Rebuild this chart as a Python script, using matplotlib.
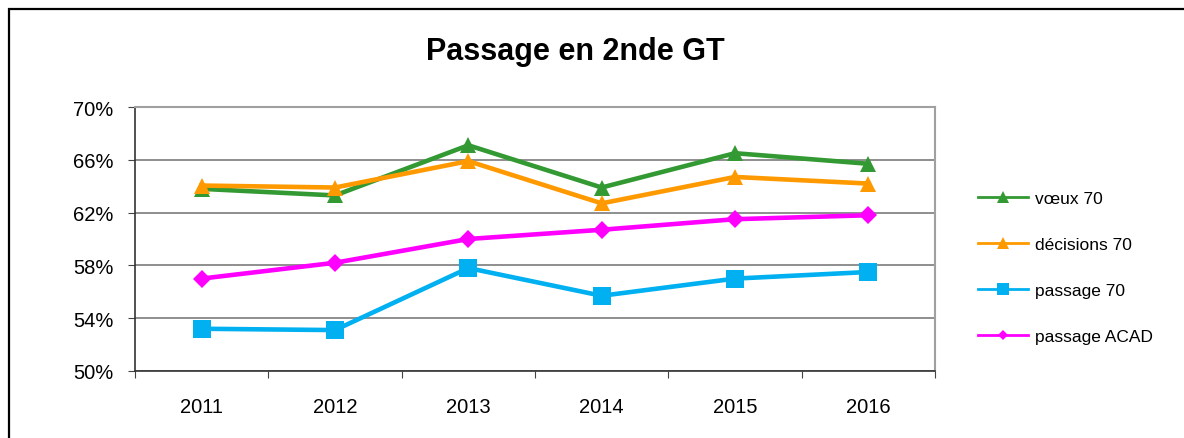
import matplotlib
matplotlib.use("Agg")
import matplotlib.pyplot as plt
from matplotlib.lines import Line2D
from matplotlib.patches import Rectangle
from matplotlib.ticker import FuncFormatter

plt.rcParams['font.family'] = ['Liberation Sans', 'DejaVu Sans']

years = ["2011", "2012", "2013", "2014", "2015", "2016"]
voeux_70 = [63.8, 63.3, 67.1, 63.9, 66.5, 65.7]
decisions_70 = [64.05, 63.9, 65.9, 62.7, 64.7, 64.2]
passage_70 = [53.2, 53.1, 57.8, 55.7, 57.0, 57.5]
passage_acad = [57.0, 58.2, 60.0, 60.7, 61.5, 61.8]
labels = ["vœux 70", "décisions 70", "passage 70", "passage ACAD"]

W, H = 1184, 439
fig = plt.figure(figsize=(W / 100, H / 100), dpi=100)
fig.patch.set_facecolor("white")

# figure frame (cut at right and bottom)
fig.patches.append(Rectangle((9 / W, -0.05), 1.2, 1 - 10 / H + 0.05,
                             transform=fig.transFigure, fill=False,
                             edgecolor="black", linewidth=1.6))

ax = fig.add_axes([135 / W, (H - 372) / H, 800 / W, 264 / H])
x = list(range(len(years)))

styles = [
    dict(color="#339933", marker="^", ms=11.5, lw=3.3),
    dict(color="#FF9900", marker="^", ms=11.5, lw=3.3),
    dict(color="#00B0F0", marker="s", ms=12.5, lw=3.3),
    dict(color="#FF00FF", marker="D", ms=9, lw=3.3),
]
series = [voeux_70, decisions_70, passage_70, passage_acad]
for s, st in zip(series, styles):
    ax.plot(x, s, color=st["color"], marker=st["marker"], markersize=st["ms"],
            linewidth=st["lw"], markeredgewidth=0, zorder=3)

ax.set_xlim(-0.5, 5.5)
ax.set_ylim(50, 70)
ax.set_yticks([50, 54, 58, 62, 66, 70])
ax.yaxis.set_major_formatter(FuncFormatter(lambda v, p: f"{v:.0f}%"))
ax.yaxis.grid(True, color="#707070", linewidth=1.1)
ax.set_axisbelow(True)

ax.set_xticks([i - 0.5 for i in range(len(years) + 1)])
ax.set_xticklabels([])
ax.set_xticks(x, minor=True)
ax.set_xticklabels(years, minor=True)
ax.tick_params(axis="x", which="minor", length=0, pad=19, labelsize=14.5)
ax.tick_params(axis="x", which="major", length=5, direction="out", color="#444444")
ax.tick_params(axis="y", length=5, direction="out", labelsize=14.5, pad=10.5, color="#444444")

for side in ["top", "right"]:
    ax.spines[side].set_color("#A0A0A0")
    ax.spines[side].set_linewidth(1.5)
for side in ["left", "bottom"]:
    ax.spines[side].set_color("#333333")
    ax.spines[side].set_linewidth(1.2)

fig.text(575 / W, 1 - 52 / H, "Passage en 2nde GT", ha="center", va="center",
         fontsize=22, fontweight="bold")

handles = []
for st in styles:
    ms = 8 if st["marker"] != "D" else 5.5
    handles.append(Line2D([], [], color=st["color"], marker=st["marker"],
                          markersize=ms, linewidth=2, markeredgewidth=0))
fig.legend(handles, labels, loc="center left",
           bbox_to_anchor=(978 / W, 1 - 268.5 / H), frameon=False,
           fontsize=12.5, handlelength=2.87, handletextpad=0.4,
           labelspacing=1.78, borderpad=0, borderaxespad=0)

fig.savefig("out.png", dpi=100)
